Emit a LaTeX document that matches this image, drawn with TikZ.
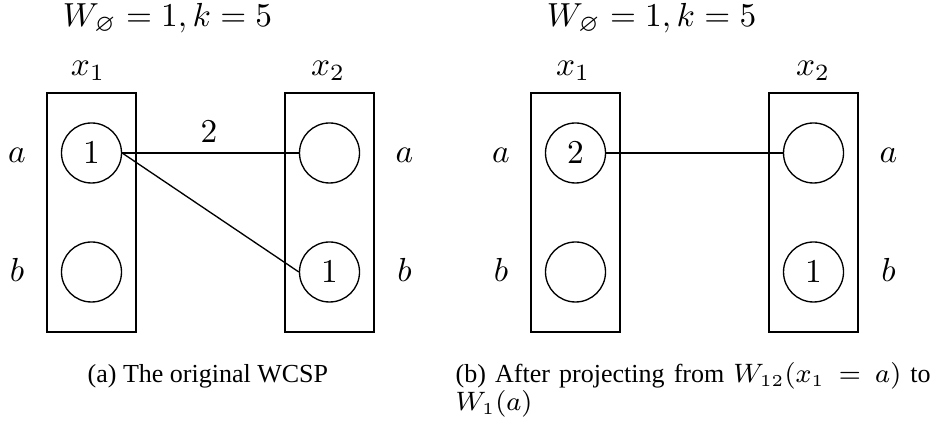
\documentclass[tikz,border=0pt]{standalone}
\usepackage{amssymb}
\usepackage{fontspec}
\setmainfont{Liberation Serif}
\begin{document}
\begin{tikzpicture}[x=0.3pt,y=-0.3pt,line width=0.4pt,
  dom/.style={draw, minimum width=26.7pt, minimum height=71.7pt, inner sep=0pt},
  val/.style={draw, circle, minimum size=18pt, inner sep=0pt, font=\fontsize{10}{12}\selectfont},
  lbl/.style={anchor=base, inner sep=0pt, font=\fontsize{10}{12}\selectfont},
  captext/.style={anchor=base west, inner sep=0pt, font=\fontsize{7.8}{9}\selectfont}]
\useasboundingbox (0,0) rectangle (936,425);

% (a) the original problem
\node[lbl] (ta) at (167.5,27) {$W_{\varnothing} = 1, k = 5$};
\node[lbl] (xa1) at (88,76) {$x_1$};
\node[lbl] (xa2) at (328,76) {$x_2$};
\node[dom] (A1) at (91.5,212.5) {};
\node[dom] (A2) at (329.5,212.5) {};
\node[val] (A1a) at (91.5,153) {$1$};
\node[val] (A1b) at (91.5,272) {};
\node[val] (A2a) at (329.5,153) {};
\node[val] (A2b) at (329.5,272) {$1$};
\node[lbl] (la1) at (17,163) {$a$};
\node[lbl] (lb1) at (17,282) {$b$};
\node[lbl] (la2) at (404.5,163) {$a$};
\node[lbl] (lb2) at (404.5,282) {$b$};
\draw (A1a.east) -- (A2a.west);
\draw (A1a.east) -- (A2b.west);
\node[lbl] (wa) at (209,143) {$2$};
\node[captext] (capa) at (87,383) {(a) The original WCSP};

% (b) after the projection
\begin{scope}[shift={(484,0)}]
\node[lbl] (tb) at (167.5,27) {$W_{\varnothing} = 1, k = 5$};
\node[lbl] (xb1) at (89,76) {$x_1$};
\node[lbl] (xb2) at (329,76) {$x_2$};
\node[dom] (B1) at (91.5,212.5) {};
\node[dom] (B2) at (329.5,212.5) {};
\node[val] (B1a) at (91.5,153) {$2$};
\node[val] (B1b) at (91.5,272) {};
\node[val] (B2a) at (329.5,153) {};
\node[val] (B2b) at (329.5,272) {$1$};
\node[lbl] (ma1) at (17,163) {$a$};
\node[lbl] (mb1) at (17,282) {$b$};
\node[lbl] (ma2) at (404.5,163) {$a$};
\node[lbl] (mb2) at (404.5,282) {$b$};
\draw (B1a.east) -- (B2a.west);
\end{scope}
\node[captext] (capb1) at (455,383) {\makebox[142.5pt][s]{(b) After projecting from $W_{12}(x_1 = a)$ to}};
\node[captext] (capb2) at (455,411) {$W_1(a)$};
\end{tikzpicture}
\end{document}
